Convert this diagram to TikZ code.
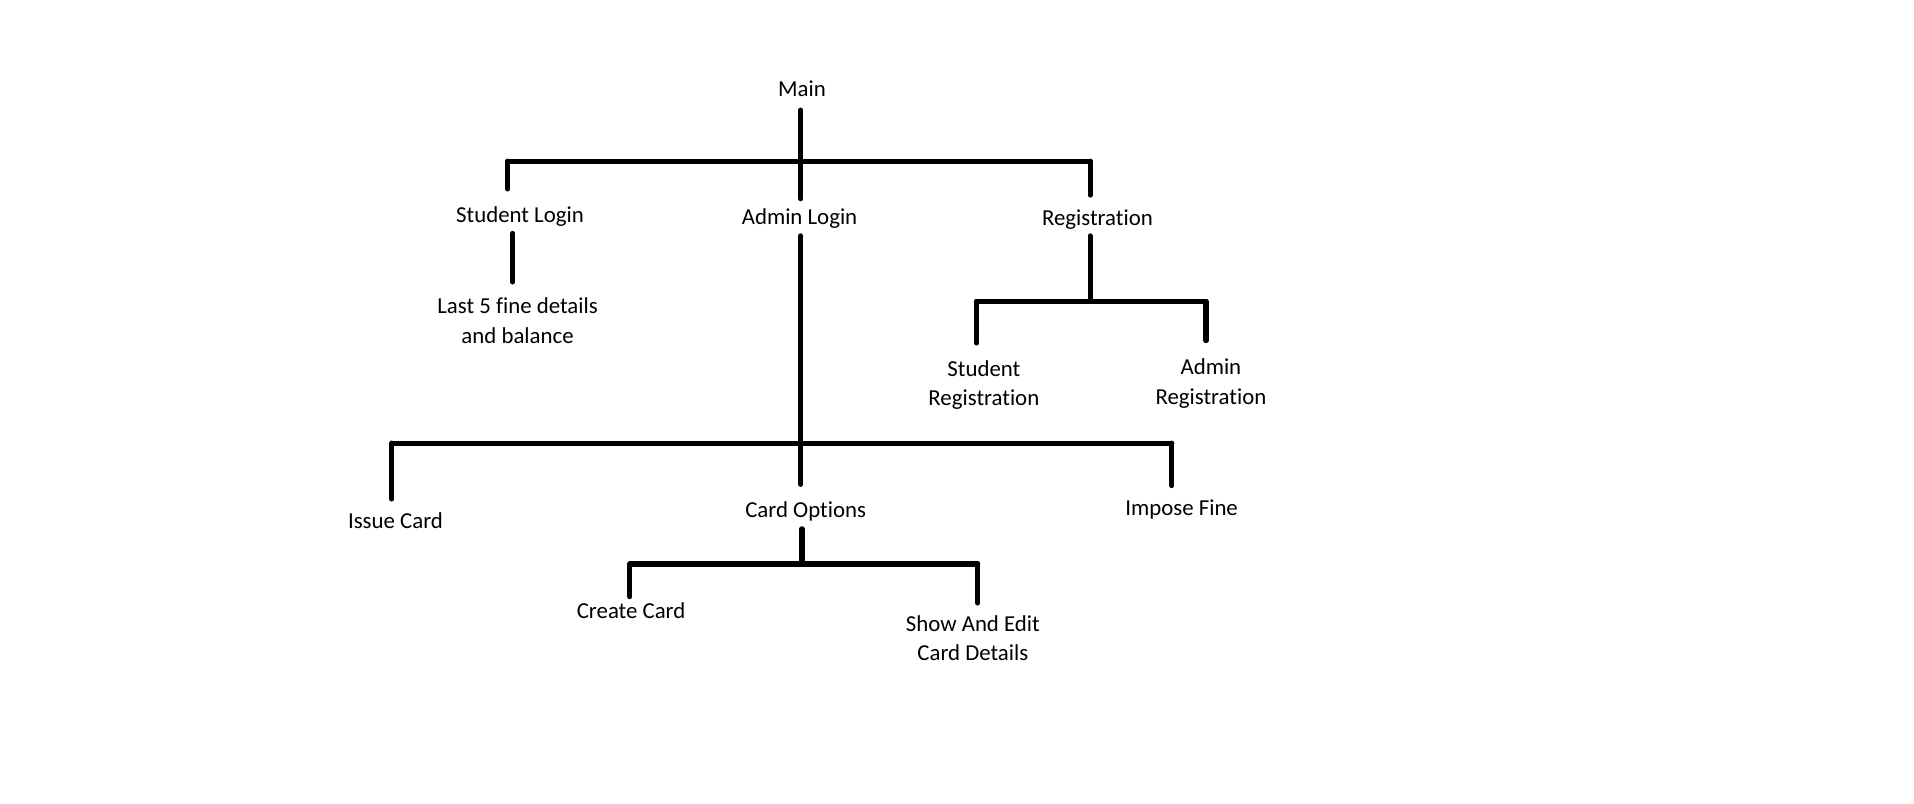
\documentclass[tikz,border=0pt]{standalone}
\usepackage{fontspec}
\setmainfont[Ligatures=NoCommon]{Carlito}
\begin{document}
\begin{tikzpicture}[x=1pt,y=-1pt,
  lbl/.style={font=\fontsize{18.7}{24}\selectfont, inner sep=0pt, anchor=base, text height=12.5pt, text depth=4pt},
  lbltwo/.style={font=\fontsize{18.7}{24}\selectfont, inner sep=0pt, anchor=north, align=center},
  ln/.style={line width=4.2pt, line cap=round, black}]
\useasboundingbox (0,0) rectangle (1568,658.6);
% nodes
\node[lbl] (main) at (657,79) {Main};
\node[lbl] (sl) at (426,182) {Student Login};
\node[lbl] (admin) at (655,184) {Admin Login};
\node[lbl] (reg) at (899,185) {Registration};
\node[lbltwo] (last5) at (424,244) {Last 5 fine details\\and balance};
\node[lbltwo] (sreg) at (806,295) {Student\\Registration};
\node[lbltwo] (areg) at (992,294) {Admin\\Registration};
\node[lbl] (issue) at (324,433) {Issue Card};
\node[lbl] (cardopt) at (660,424) {Card Options};
\node[lbl] (impose) at (968,422) {Impose Fine};
\node[lbl] (create) at (517,507) {Create Card};
\node[lbltwo] (show) at (797,504) {Show And Edit\\Card Details};
% junction coordinates
\coordinate (b1) at (656,132);
\coordinate (b1L) at (416,132);
\coordinate (b1R) at (893,132);
\coordinate (sx) at (420,200);
\coordinate (b2) at (893,247);
\coordinate (b2L) at (800,247);
\coordinate (b2R) at (988,247);
\coordinate (b3) at (656,363);
\coordinate (b3L) at (321,363);
\coordinate (b3R) at (960,363);
\coordinate (b4) at (657,462);
\coordinate (b4L) at (516,462);
\coordinate (b4R) at (801,462);
% connectors
\draw[ln, shorten <=7pt, shorten >=8.5pt] (b1 |- main.south) -- (b1 |- admin.north);
\draw[ln] (b1L) -- (b1R);
\draw[ln, shorten >=14.5pt] (b1L) -- (b1L |- sl.north);
\draw[ln, shorten >=12.5pt] (b1R) -- (b1R |- reg.north);
\draw[ln, shorten <=5pt, shorten >=13pt] (sx |- sl.south) -- (sx |- last5.north);
\draw[ln, shorten <=5pt, shorten >=14.5pt] (b3 |- admin.south) -- (b3 |- cardopt.north);
\draw[ln] (b3L) -- (b3R);
\draw[ln, shorten >=11.5pt] (b3L) -- (b3L |- issue.north);
\draw[ln, shorten >=11.5pt] (b3R) -- (b3R |- impose.north);
\draw[ln, shorten <=4pt] (b2 |- reg.south) -- (b2);
\draw[ln] (b2L) -- (b2R);
\draw[ln, shorten >=14pt] (b2L) -- (b2L |- sreg.north);
\draw[ln, shorten >=15pt] (b2R) -- (b2R |- areg.north);
\draw[ln, shorten <=5pt] (b4 |- cardopt.south) -- (b4);
\draw[ln] (b4L) -- (b4R);
\draw[ln, shorten >=5.5pt] (b4L) -- (b4L |- create.north);
\draw[ln, shorten >=10pt] (b4R) -- (b4R |- show.north);
\end{tikzpicture}
\end{document}
